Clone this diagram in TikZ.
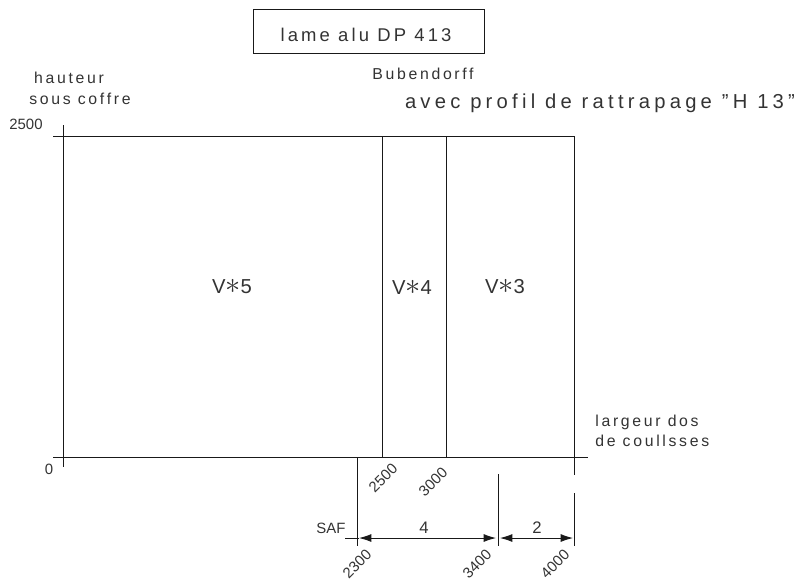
\documentclass[tikz,border=0pt]{standalone}
\usepackage{fontspec}
\setmainfont{Liberation Sans}
\usetikzlibrary{arrows.meta}
\newcommand{\timesmark}{{\fontsize{17}{17}\selectfont$\ast$}}
\tikzset{
    grid line/.style={line width=0.5pt,black!90},
    base label/.style={text=black!80,inner sep=0pt},
    small label/.style={base label,font=\fontsize{9}{11}\selectfont\addfontfeatures{LetterSpace=17}},
    num label/.style={base label,font=\fontsize{8.5}{10}\selectfont},
    mid label/.style={base label,font=\fontsize{9.5}{11}\selectfont},
    title label/.style={base label,font=\fontsize{10.5}{12}\selectfont\addfontfeatures{LetterSpace=17}},
    big label/.style={base label,font=\fontsize{11.5}{13}\selectfont\addfontfeatures{LetterSpace=21}},
    zone label/.style={base label,font=\fontsize{11.5}{13}\selectfont},
    slant label/.style={num label,rotate=45},
    dim arrow/.style={line width=0.5pt,black!90,{Latex[length=7pt,width=4.5pt]}-{Latex[length=7pt,width=4.5pt]}}
}
\begin{document}
\begin{tikzpicture}[x=0.02cm,y=-0.02cm]
\useasboundingbox (0,0) rectangle (811,579);
% Title box
\node[draw=black!90,line width=0.5pt,minimum width=231*0.02cm,minimum height=44*0.02cm] (Title) at (368.5,31){};
\node[title label] (TitleText) at (366,35){lame alu DP 413};
\node[small label] (Brand) at (423,74){Bubendorff};
\node[big label] (Profil) at (600,103){avec profil de rattrapage "H 13"};
% Axes
\coordinate (TopL) at (53,136);
\coordinate (TopR) at (574,136);
\coordinate (BotL) at (53,457);
\coordinate (BotR) at (588,457);
\coordinate (AxisT) at (63,125);
\coordinate (AxisB) at (63,467);
\draw[grid line] (TopL) -- (TopR);
\draw[grid line] (BotL) -- (BotR);
\draw[grid line] (AxisT) -- (AxisB);
% Zone limits
\coordinate (Va) at (382,136);
\coordinate (Vb) at (446,136);
\draw[grid line] (Va) -- (Va |- BotL);
\draw[grid line] (Vb) -- (Vb |- BotL);
\coordinate (Vc) at (574,475);
\coordinate (Vd) at (574,493);
\coordinate (Ve) at (574,546);
\draw[grid line] (TopR) -- (Vc);
\draw[grid line] (Vd) -- (Ve);
\coordinate (Vf) at (357,457);
\coordinate (Vg) at (357,546);
\draw[grid line] (Vf) -- (Vg);
\coordinate (Vh) at (498,474);
\coordinate (Vi) at (498,546);
\draw[grid line] (Vh) -- (Vi);
% Zones
\node[zone label] (Zone5) at (232,287){V\timesmark5};
\node[zone label] (Zone4) at (412,287){V\timesmark4};
\node[zone label] (Zone3) at (505,287){V\timesmark3};
% Axis labels
\node[small label] (HautA) at (69,78){hauteur};
\node[small label] (HautB) at (80,99){sous coffre};
\node[num label] (Max) at (26,124){2500};
\node[num label] (Zero) at (49,469){0};
\node[small label,anchor=west] (LargA) at (595,422){largeur dos};
\node[small label,anchor=west] (LargB) at (595,441){de coullsses};
% Dimensions
\coordinate (Da) at (345,538);
\coordinate (Db) at (359,538);
\coordinate (Dc) at (496,538);
\coordinate (Dd) at (500,538);
\coordinate (De) at (573,538);
\draw[grid line] (Da) -- (Db);
\draw[dim arrow] (Db) -- (Dc);
\draw[dim arrow] (Dd) -- (De);
\node[num label] (Saf) at (331,528){SAF};
\node[mid label] (Four) at (424,528){4};
\node[mid label] (Two) at (537,528){2};
\node[slant label] (Xa) at (383,478){2500};
\node[slant label] (Xb) at (433,482){3000};
\node[slant label] (Xc) at (357,564){2300};
\node[slant label] (Xd) at (477,564){3400};
\node[slant label] (Xe) at (555,564){4000};
\end{tikzpicture}
\end{document}
